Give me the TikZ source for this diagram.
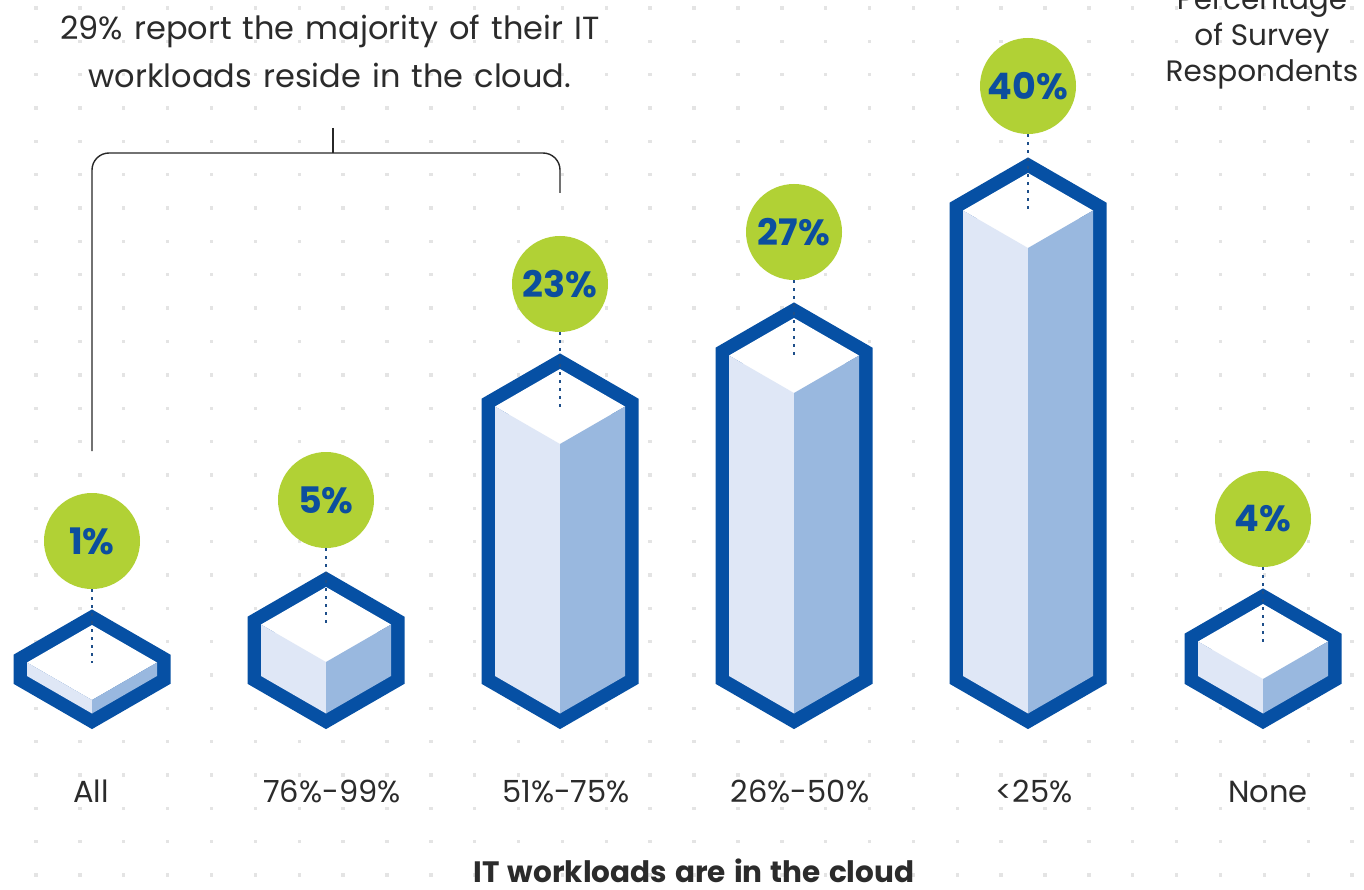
\documentclass[tikz,border=0pt]{standalone}
\usepackage{fontspec}
\setmainfont{Poppins}
\newfontfamily\headfont{Poppins}[WordSpace=2.15]
\newfontfamily\titlefont{Poppins}[WordSpace=1.3]
\definecolor{barblue}{HTML}{0650A4}
\definecolor{pcttext}{HTML}{0C4E9E}
\definecolor{faceL}{HTML}{DFE7F6}
\definecolor{faceR}{HTML}{99B8DF}
\definecolor{lime}{HTML}{B1D135}
\definecolor{dotgray}{HTML}{E4E4E4}
\definecolor{txt}{HTML}{2B2B2B}
\definecolor{dotline}{HTML}{1E4F8A}
\newcommand\isobar[3]{%
  \path[frame] (#1,#2) -- (#1-65,#2+37.5) -- (#1-65,676) -- (#1,713.5) -- (#1+65,676) -- (#1+65,#2+37.5) -- cycle;
  \fill[white] (#1,#2) -- (#1-65,#2+37.5) -- (#1,#2+75) -- (#1+65,#2+37.5) -- cycle;
  \fill[faceL] (#1-65,#2+37.5) -- (#1,#2+75) -- (#1,713.5) -- (#1-65,676) -- cycle;
  \fill[faceR] (#1+65,#2+37.5) -- (#1,#2+75) -- (#1,713.5) -- (#1+65,676) -- cycle;
  \coordinate (#3) at (#1,#2+37.5);
}
\begin{document}
\begin{tikzpicture}[x=1pt,y=-1pt,
  frame/.style={draw=barblue, line width=27pt, line join=miter},
  pct/.style={circle, fill=lime, minimum size=96pt, inner sep=0pt, text=pcttext, font=\fontsize{36.5}{36.5}\selectfont\bfseries},
  conn/.style={draw=dotline, line width=2.4pt, dash pattern=on 2.4pt off 5.6pt},
  lbl/.style={text=txt, anchor=base, inner sep=0pt, font=\fontsize{30.5}{30.5}\selectfont},
  head/.style={text=txt, anchor=base, inner sep=0pt, font=\headfont\fontsize{32}{32}\selectfont},
  side/.style={text=txt, anchor=base, inner sep=0pt, font=\fontsize{29.5}{29.5}\selectfont},
  title/.style={text=txt, anchor=base, inner sep=0pt, font=\titlefont\fontsize{29.5}{29.5}\selectfont\bfseries},
  brk/.style={draw=txt!90!black, line width=1.4pt, rounded corners=17pt},
  griddot/.style={fill=dotgray}]
\useasboundingbox (0,0) rectangle (1364,890);
\fill[white] (0,0) rectangle (1364,890);
% dot grid
\foreach \i in {0,...,30}{
  \foreach \j in {0,...,26}{
    \fill[griddot] ({36+43.87*\i-1.7},{8+33.35*\j-1.7}) rectangle ++(3.4,3.4);
  }
}
% bars
\isobar{92}{625}{b1}
\isobar{326}{587}{b2}
\isobar{560}{369}{b3}
\isobar{794}{318}{b4}
\isobar{1028}{173}{b5}
\isobar{1263}{604}{b6}
% circles
\node[pct] (c1) at (92,541) {1\%};
\node[pct] (c2) at (326,500) {5\%};
\node[pct] (c3) at (560,284) {23\%};
\node[pct] (c4) at (794,232) {27\%};
\node[pct] (c5) at (1028,86) {40\%};
\node[pct] (c6) at (1263,519) {4\%};
% dotted connectors
\foreach \k in {1,...,6}{ \draw[conn] (c\k) -- (b\k); }
% bracket
\coordinate (bl) at (92,451);
\coordinate (br) at (560,193);
\coordinate (bt) at (333,153);
\coordinate (btt) at (333,128);
\draw[brk] (bl) -- (bl |- bt) -- (br |- bt) -- (br);
\draw[brk] (btt) -- (bt);
% texts
\node[head] (h1) at (330,40) {29\% report the majority of their IT};
\node[head] (h2) at (330,88) {workloads reside in the cloud.};
\node[side] (r1) at (1262,10) {Percentage};
\node[side] (r2) at (1262,46) {of Survey};
\node[side] (r3) at (1262,82) {Respondents};
\node[lbl] (l1) at (91,802) {All};
\node[lbl] (l2) at (332,802) {76\%-99\%};
\node[lbl] (l3) at (566,802) {51\%-75\%};
\node[lbl] (l4) at (800,802) {26\%-50\%};
\node[lbl] (l5) at (1034,802) {<25\%};
\node[lbl] (l6) at (1268,802) {None};
\node[title] (t) at (694,882) {IT workloads are in the cloud};
\end{tikzpicture}
\end{document}
